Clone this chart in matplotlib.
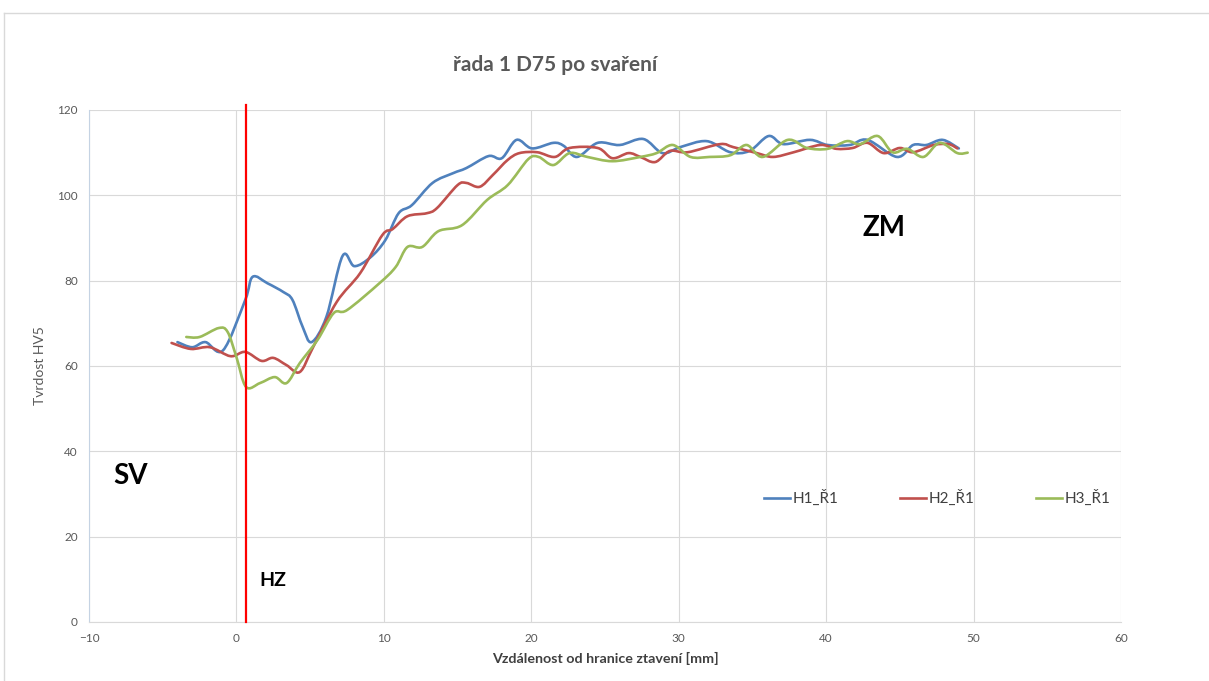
import numpy as np
import matplotlib
matplotlib.use("Agg")
import matplotlib.pyplot as plt
from matplotlib.path import Path
from matplotlib.patches import PathPatch
from matplotlib.lines import Line2D

plt.rcParams['font.family'] = ['Lato', 'DejaVu Sans']

# data
h1_x = [-4.0, -3.0, -2.1, -0.9, 0.6, 1.1, 2.1, 3.2, 3.8, 4.5, 5.1, 6.1, 7.2, 8.0, 9.1,
        10.1, 11.0, 11.9, 13.3, 14.7, 15.6, 17.1, 18.0, 19.0, 20.05, 21.5, 22.2, 23.1,
        24.5, 26.0, 27.6, 28.9, 30.1, 31.9, 33.5, 34.8, 36.1, 37.1, 38.9, 40.1, 41.6,
        42.8, 44.8, 45.9, 46.8, 47.9, 49.0]
h1_y = [65.6, 64.4, 65.6, 63.7, 75.5, 80.9, 79.4, 77.3, 75.5, 69.1, 65.6, 71.5, 85.8, 83.4,
        85.5, 89.5, 95.8, 97.7, 102.9, 105.2, 106.4, 109.2, 108.7, 113.0, 111.0, 112.3,
        111.6, 109.0, 112.3, 111.8, 113.2, 109.9, 111.3, 112.7, 110.1, 110.4, 113.9,
        112.0, 113.0, 111.8, 111.8, 113.0, 109.0, 111.8, 111.8, 113.0, 111.0]

h2_x = [-4.4, -3.1, -1.8, -0.4, 0.6, 1.7, 2.5, 3.4, 4.3, 5.2, 6.8, 8.4, 9.9, 10.6, 11.6,
        12.9, 13.6, 15.0, 15.6, 16.5, 17.4, 18.4, 19.2, 20.4, 21.6, 22.6, 24.5, 25.5,
        26.6, 27.4, 28.4, 29.4, 30.6, 32.8, 33.7, 35.3, 36.4, 37.8, 39.6, 40.7, 41.8,
        42.8, 43.9, 45.0, 45.9, 47.3, 48.3, 48.9]
h2_y = [65.4, 64.0, 64.4, 62.3, 63.3, 61.2, 61.9, 60.2, 58.6, 64.4, 75.0, 81.8, 90.7, 92.1,
        95.1, 95.8, 97.0, 102.4, 102.9, 102.0, 104.8, 108.3, 109.9, 110.1, 109.0, 111.1,
        111.1, 108.7, 109.9, 109.0, 107.8, 110.4, 110.1, 112.0, 111.3, 109.9, 109.0,
        110.1, 111.8, 110.9, 111.1, 112.3, 109.9, 111.1, 110.1, 111.8, 112.0, 111.0]

h3_x = [-3.4, -2.5, -1.2, -0.6, 0.0, 0.65, 1.6, 2.6, 3.4, 4.3, 5.5, 6.6, 7.5, 9.7, 10.8,
        11.6, 12.6, 13.7, 15.3, 17.0, 18.4, 19.8, 20.5, 21.5, 22.6, 23.8, 25.5, 27.4,
        28.5, 29.6, 30.8, 32.1, 33.5, 34.6, 35.7, 37.4, 38.7, 40.1, 41.4, 42.3, 43.5,
        44.5, 45.5, 46.6, 47.7, 48.9, 49.6]
h3_y = [66.8, 66.8, 68.9, 68.0, 62.1, 55.1, 56.0, 57.4, 56.0, 60.7, 66.1, 72.4, 73.1, 79.4,
        83.2, 87.9, 87.9, 91.6, 93.0, 98.9, 102.4, 108.5, 109.0, 107.1, 109.9, 109.0,
        108.0, 109.0, 109.9, 111.8, 109.0, 109.0, 109.4, 111.8, 109.0, 113.0, 111.1,
        110.9, 112.7, 112.0, 113.9, 110.1, 110.9, 109.0, 112.3, 109.9, 110.0]

series = [("H1_Ř1", h1_x, h1_y, "#4F81BD"),
          ("H2_Ř1", h2_x, h2_y, "#C0504D"),
          ("H3_Ř1", h3_x, h3_y, "#9BBB59")]

hz_x = 0.65  # hranice ztaveni


def smooth_path(x, y, t=1/6.0):
    # catmull-rom style bezier, like excel "smoothed line"
    x = np.asarray(x, float); y = np.asarray(y, float)
    verts = [(x[0], y[0])]
    codes = [Path.MOVETO]
    n = len(x)
    for i in range(n - 1):
        i0 = max(i - 1, 0); i3 = min(i + 2, n - 1)
        c1 = (x[i] + (x[i + 1] - x[i0]) * t, y[i] + (y[i + 1] - y[i0]) * t)
        c2 = (x[i + 1] - (x[i3] - x[i]) * t, y[i + 1] - (y[i3] - y[i]) * t)
        verts += [c1, c2, (x[i + 1], y[i + 1])]
        codes += [Path.CURVE4] * 3
    return Path(verts, codes)


fig = plt.figure(figsize=(12.09, 6.81), dpi=100)
ax = fig.add_axes([89/1209, 59/681, 1032/1209, 512/681])

for name, xs, ys, col in series:
    ax.add_patch(PathPatch(smooth_path(xs, ys), fill=False, edgecolor=col, lw=1.9,
                           capstyle='round', joinstyle='round', zorder=3))
    ax.plot([], [], color=col, lw=1.9, label=name)

ax.plot([hz_x, hz_x], [0, 121.2], color='red', lw=1.6, clip_on=False, zorder=4)

ax.set_xlim(-10, 60)
ax.set_ylim(0, 120)
ax.set_xticks(range(-10, 61, 10))
ax.set_yticks(range(0, 121, 20))
ax.grid(True, color='#d9d9d9', lw=0.8)
ax.set_axisbelow(True)
for s in ['top', 'right']:
    ax.spines[s].set_visible(False)
ax.spines['left'].set_color('#c5d3e3')
ax.spines['bottom'].set_color('#d9d9d9')
ax.tick_params(length=0, labelsize=8.5, colors='#595959', pad=8)

ax.set_xlabel("Vzdálenost od hranice ztavení [mm]", fontsize=10.3, fontweight='bold',
              color='#404040', labelpad=6)
ax.set_ylabel("Tvrdost HV5", fontsize=10, color='#595959', labelpad=8)
fig.text(0.459, 0.905, "řada 1 D75 po svaření", ha='center', va='center',
         fontsize=15, fontweight='bold', color='#595959')

ax.text(-7.2, 34.2, "SV", fontsize=20, fontweight='bold', ha='center', va='center')
ax.text(2.5, 9.8, "HZ", fontsize=14, fontweight='bold', ha='center', va='center')
ax.text(43.9, 92.3, "ZM", fontsize=20, fontweight='bold', ha='center', va='center')

ax.legend(loc='center', bbox_to_anchor=(0.822, 0.242), ncol=3, frameon=False,
          fontsize=11, handlelength=1.7, handletextpad=0.2, columnspacing=4.0,
          labelcolor='#404040')

# chart frame (light border seen at top/left)
fig.add_artist(Line2D([4/1209, 1], [1 - 13/681] * 2, color='#d9d9d9', lw=1))
fig.add_artist(Line2D([4/1209] * 2, [0, 1 - 13/681], color='#d9d9d9', lw=1))

fig.savefig("out.png", dpi=100)
